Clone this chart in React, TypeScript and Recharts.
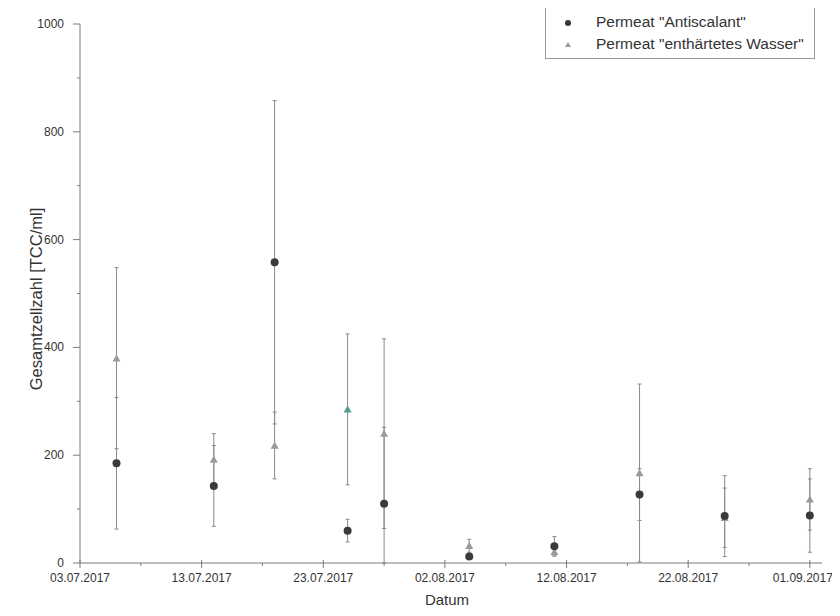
import React from "react";
import { ScatterChart, Scatter, XAxis, YAxis, ErrorBar, Cell } from "recharts";

const dates = ["06.07.2017", "14.07.2017", "19.07.2017", "25.07.2017", "28.07.2017", "04.08.2017", "11.08.2017", "18.08.2017", "25.08.2017", "01.09.2017"];
const antiValues = [185, 143, 558, 60, 110, 12, 31, 127, 87, 88];
const antiErrLow = [122, 75, 300, 21, 110, 5, 18, 48, 75, 68];
const antiErrHigh = [122, 75, 300, 21, 142, 5, 18, 48, 75, 68];
const softValues = [380, 192, 218, 285, 240, 32, 21, 167, 84, 118];
const softErr = [168, 48, 62, 140, 176, 12, 8, 165, 55, 57];
const xTickLabels = ["03.07.2017", "13.07.2017", "23.07.2017", "02.08.2017", "12.08.2017", "22.08.2017", "01.09.2017"];
const yTickLabels = [0, 200, 400, 600, 800, 1000];
const seriesNames = ['Permeat "Antiscalant"', 'Permeat "enthärtetes Wasser"'];
const xTitle = "Datum";
const yTitle = "Gesamtzellzahl [TCC/ml]";

const ORIGIN = Date.UTC(2017, 6, 3);
const toDay = (s: string) => {
  const [d, m, y] = s.split(".").map(Number);
  return Math.round((Date.UTC(y, m - 1, d) - ORIGIN) / 86400000);
};

const antiData = dates.map((d, i) => ({ x: toDay(d), y: antiValues[i], err: [antiErrLow[i], antiErrHigh[i]] }));
const softData = dates.map((d, i) => ({ x: toDay(d), y: softValues[i], err: [softErr[i], softErr[i]] }));

const majorX = xTickLabels.map(toDay);
const xTicks: number[] = [];
majorX.forEach((v) => { xTicks.push(v); xTicks.push(v + 5); });
const yTicks: number[] = [];
yTickLabels.forEach((v) => { yTicks.push(v); if (v < 1000) yTicks.push(v + 100); });

const FONT = "'Liberation Sans', Arial, sans-serif";
const AXIS = "#7a7a7a";

const XTick = (props: any) => {
  const { x, y, payload } = props;
  const idx = majorX.indexOf(payload.value);
  const major = idx >= 0;
  const last = idx === xTickLabels.length - 1;
  return (
    <g>
      <line x1={x} x2={x} y1={y - (major ? 3 : 0)} y2={y + (major ? 5 : 3)} stroke={AXIS} />
      {major && (
        <text
          x={last ? x + 23 : x}
          y={y + 19}
          textAnchor={last ? "end" : "middle"}
          fontSize={12}
          fontFamily={FONT}
          fill="#333"
        >
          {xTickLabels[idx]}
        </text>
      )}
    </g>
  );
};

const YTick = (props: any) => {
  const { x, y, payload } = props;
  const major = yTickLabels.indexOf(payload.value) >= 0;
  return (
    <g>
      <line x1={x - (major ? 7 : 3)} x2={x} y1={y} y2={y} stroke={AXIS} />
      {major && (
        <text x={x - 16} y={y + 4} textAnchor="end" fontSize={12} fontFamily={FONT} fill="#333">
          {payload.value}
        </text>
      )}
    </g>
  );
};

const Tri = (props: any) => {
  const { cx, cy, fill } = props;
  if (cx == null || cy == null) return null;
  const s = 4;
  return <polygon points={`${cx},${cy - s} ${cx - s},${cy + s * 0.8} ${cx + s},${cy + s * 0.8}`} fill={fill} />;
};

const Dot = (props: any) => {
  const { cx, cy, fill } = props;
  if (cx == null || cy == null) return null;
  return <circle cx={cx} cy={cy} r={4} fill={fill} />;
};

const YTitle = () => (
  <text
    x={28}
    y={291}
    transform="rotate(-90 28 291)"
    textAnchor="middle"
    dominantBaseline="central"
    fontSize={16.5}
    fontFamily={FONT}
    fill="#333"
  >
    {yTitle}
  </text>
);

const XTitle = () => (
  <text x={439} y={591} textAnchor="middle" dominantBaseline="central" fontSize={15} fontFamily={FONT} fill="#333">
    {xTitle}
  </text>
);

const LegendBox = () => (
  <div
    style={{
      position: "absolute",
      left: 537,
      top: -1,
      border: "1px solid #999",
      background: "#fff",
      width: 270,
      height: 52,
      boxSizing: "border-box",
      fontFamily: FONT,
      fontSize: 15.5,
      color: "#333",
    }}
  >
    <svg width={40} height={52} style={{ position: "absolute", left: 0, top: 0 }}>
      <circle cx={22} cy={15} r={3} fill="#333" />
      <polygon points="22,34 19,39 25,39" fill="#999" />
    </svg>
    <div style={{ position: "absolute", left: 50, top: 5, lineHeight: "18px", whiteSpace: "nowrap" }}>{seriesNames[0]}</div>
    <div style={{ position: "absolute", left: 50, top: 27, lineHeight: "18px", whiteSpace: "nowrap" }}>{seriesNames[1]}</div>
  </div>
);

export default function App() {
  return (
    <div style={{ position: "relative", width: 824, height: 600 }}>
      <style>{`.recharts-surface{overflow:visible}`}</style>
      <ScatterChart width={824} height={600} margin={{ top: 16, right: 10, bottom: 0, left: 0 }}>
        <XAxis
          type="number"
          dataKey="x"
          domain={[0, 61]}
          ticks={xTicks}
          interval={0}
          tick={<XTick />}
          tickLine={false}
          tickSize={0}
          tickMargin={0}
          height={45}
          stroke={AXIS}
          allowDataOverflow
          label={{ content: () => <XTitle /> }}
        />
        <YAxis
          type="number"
          dataKey="y"
          domain={[0, 1000]}
          ticks={yTicks}
          interval={0}
          tick={<YTick />}
          tickLine={false}
          tickSize={0}
          tickMargin={0}
          width={72}
          stroke={AXIS}
          allowDataOverflow
          label={{ content: () => <YTitle /> }}
        />
        <Scatter name={seriesNames[1]} data={softData} fill="#9a9a9a" shape={<Tri />} isAnimationActive={false}>
          {softData.map((_, i) => (
            <Cell key={i} fill={i === 3 ? "#4f9e90" : "#9a9a9a"} />
          ))}
          <ErrorBar dataKey="err" direction="y" width={2} stroke="#8a8a8a" strokeWidth={1} />
        </Scatter>
        <Scatter name={seriesNames[0]} data={antiData} fill="#3a3a3a" shape={<Dot />} isAnimationActive={false}>
          <ErrorBar dataKey="err" direction="y" width={2} stroke="#8a8a8a" strokeWidth={1} />
        </Scatter>
      </ScatterChart>
      <LegendBox />
    </div>
  );
}
